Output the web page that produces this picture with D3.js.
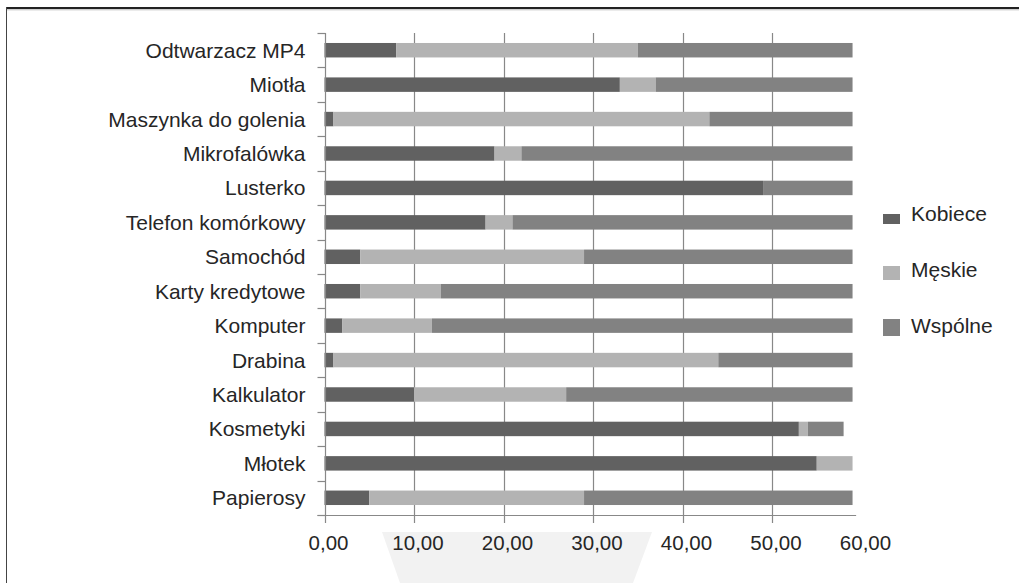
<!DOCTYPE html>
<html>
<head>
<meta charset="utf-8">
<script src="https://cdn.jsdelivr.net/npm/d3@7"></script>
<style>
  html, body { margin: 0; padding: 0; background: #fff; }
  svg { display: block; }
  text { font-family: "Liberation Sans", Arial, sans-serif; fill: #262626; }
</style>
</head>
<body>
<svg id="chart" width="1019" height="583"></svg>
<script>
const categories = ["Odtwarzacz MP4", "Miotła", "Maszynka do golenia", "Mikrofalówka", "Lusterko",
  "Telefon komórkowy", "Samochód", "Karty kredytowe", "Komputer", "Drabina", "Kalkulator",
  "Kosmetyki", "Młotek", "Papierosy"];
const seriesNames = ["Kobiece", "Męskie", "Wspólne"];
const kobiece = [8, 33, 1, 19, 49, 18, 4, 4, 2, 1, 10, 53, 55, 5];
const meskie  = [27, 4, 42, 3, 0, 3, 25, 9, 10, 43, 17, 1, 4, 24];
const wspolne = [24, 22, 16, 37, 10, 38, 30, 46, 47, 15, 32, 4, 0, 30];
const xTicks = [0, 10, 20, 30, 40, 50, 60];
const xTickLabels = ["0,00", "10,00", "20,00", "30,00", "40,00", "50,00", "60,00"];

const colors = ["#616161", "#b3b3b3", "#828282"];
const legendMarkerHeights = [10, 14, 17];

const svg = d3.select("#chart");

// frame
svg.append("line").attr("x1", 6).attr("x2", 1019).attr("y1", 8).attr("y2", 8)
  .attr("stroke", "#222").attr("stroke-width", 2);
svg.append("line").attr("x1", 7).attr("x2", 1019).attr("y1", 9.8).attr("y2", 9.8)
  .attr("stroke", "#bbb").attr("stroke-width", 1);
svg.append("line").attr("x1", 6.5).attr("x2", 6.5).attr("y1", 7).attr("y2", 583)
  .attr("stroke", "#444").attr("stroke-width", 1);

// decorative trapezoid behind axis labels
svg.append("polygon").attr("points", "382,532 652,532 633,583 400,583").attr("fill", "#f2f2f2");

const plotTop = 33, plotBottom = 515;
const x = d3.scaleLinear().domain([0, 60]).range([324.5, 861.5]);
const y = d3.scaleBand().domain(categories).range([plotTop, plotBottom]).paddingInner(0.58).paddingOuter(0.29);
const step = y.step();

const data = categories.map((c, i) => ({ cat: c, Kobiece: kobiece[i], "Męskie": meskie[i], "Wspólne": wspolne[i] }));
const stacked = d3.stack().keys(seriesNames)(data);

const gridColor = "#888";

// gridlines (10..50)
svg.append("g").selectAll("line").data(xTicks.filter(t => t > 0 && t < 60)).join("line")
  .attr("x1", d => Math.round(x(d)) + 0.5).attr("x2", d => Math.round(x(d)) + 0.5)
  .attr("y1", plotTop).attr("y2", plotBottom + 8)
  .attr("stroke", gridColor).attr("stroke-width", 1.2);

// bars
svg.append("g").selectAll("g").data(stacked).join("g")
  .attr("fill", (d, i) => colors[i])
  .selectAll("rect").data(d => d).join("rect")
  .attr("x", d => x(d[0]))
  .attr("width", d => Math.max(0, x(d[1]) - x(d[0])))
  .attr("y", d => y(d.data.cat))
  .attr("height", y.bandwidth());

// y axis line with boundary ticks
const x0 = Math.round(x(0)) + 0.5;
svg.append("line").attr("x1", x0).attr("x2", x0).attr("y1", plotTop).attr("y2", plotBottom + 8)
  .attr("stroke", gridColor).attr("stroke-width", 1.2);
const boundaries = d3.range(categories.length + 1).map(i => plotTop + i * step);
svg.append("g").selectAll("line").data(boundaries).join("line")
  .attr("x1", x0 - 8).attr("x2", x0)
  .attr("y1", d => Math.round(d) + 0.5).attr("y2", d => Math.round(d) + 0.5)
  .attr("stroke", gridColor).attr("stroke-width", 1.2);

// x axis line
svg.append("line").attr("x1", x0 - 8).attr("x2", x(59.4))
  .attr("y1", Math.round(plotBottom) + 0.5).attr("y2", Math.round(plotBottom) + 0.5)
  .attr("stroke", gridColor).attr("stroke-width", 1.2);

// y labels
svg.append("g").selectAll("text").data(categories).join("text")
  .attr("x", x0 - 20)
  .attr("y", d => y(d) + y.bandwidth() / 2)
  .attr("dy", "0.36em")
  .attr("text-anchor", "end")
  .attr("font-size", "21px")
  .text(d => d);

// x labels
svg.append("g").selectAll("text").data(xTicks).join("text")
  .attr("x", d => x(d) + 4)
  .attr("y", 550)
  .attr("text-anchor", "middle")
  .attr("font-size", "20.5px")
  .text((d, i) => xTickLabels[i]);

// legend
const legendTextBaselines = [220.7, 276.7, 332.7];
const lg = svg.append("g").selectAll("g").data(seriesNames).join("g");
lg.append("rect")
  .attr("x", 883).attr("width", 17)
  .attr("y", (d, i) => legendTextBaselines[i] + 3.3 - legendMarkerHeights[i])
  .attr("height", (d, i) => legendMarkerHeights[i])
  .attr("fill", (d, i) => colors[i]);
lg.append("text")
  .attr("x", 911)
  .attr("y", (d, i) => legendTextBaselines[i])
  .attr("font-size", "21px")
  .text(d => d);
</script>
</body>
</html>
